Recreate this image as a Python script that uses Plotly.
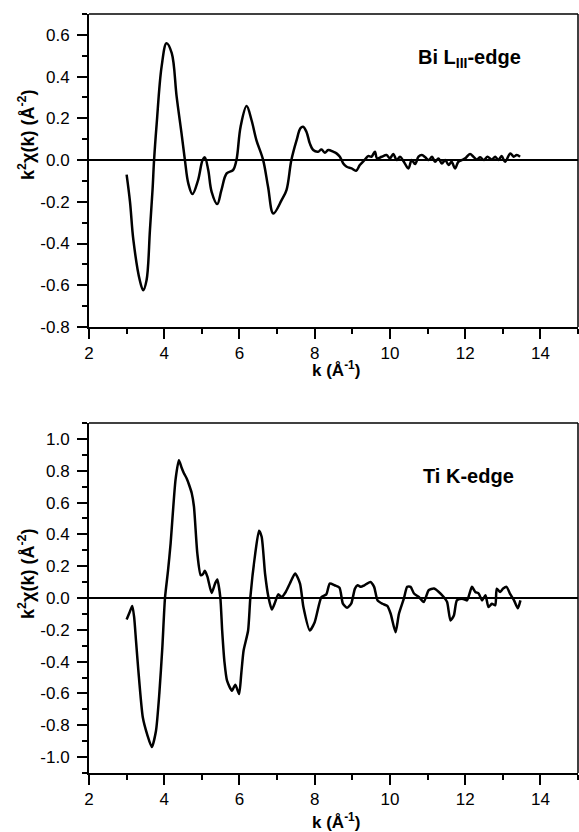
import plotly.graph_objects as go
from plotly.subplots import make_subplots

# ---------------- data ----------------
bi_k = [3.00, 3.09, 3.18, 3.35, 3.44, 3.53, 3.62, 3.69, 3.73, 3.80, 3.93, 4.06, 4.20, 4.33,
        4.46, 4.55, 4.64, 4.75, 4.90, 5.02, 5.08, 5.17, 5.26, 5.41, 5.52, 5.66, 5.83, 5.92,
        6.03, 6.19, 6.32, 6.45, 6.63, 6.76, 6.90, 7.12, 7.25, 7.38, 7.52, 7.62, 7.69, 7.78,
        7.87, 7.96, 8.09, 8.18, 8.27, 8.36, 8.49, 8.58, 8.67, 8.76, 8.85, 8.98, 9.10, 9.20,
        9.34, 9.42, 9.51, 9.60, 9.66, 9.78, 9.91, 10.00, 10.09, 10.18, 10.27, 10.37, 10.49,
        10.58, 10.67, 10.76, 10.85, 10.94, 11.03, 11.12, 11.20, 11.29, 11.38, 11.47, 11.56,
        11.64, 11.73, 11.82, 11.91, 12.00, 12.13, 12.22, 12.31, 12.40, 12.50, 12.59, 12.71,
        12.80, 12.88, 12.97, 13.06, 13.20, 13.29, 13.37, 13.46]
bi_chi = [-0.07, -0.20, -0.384, -0.576, -0.624, -0.576, -0.336, -0.14, 0.0, 0.176, 0.448,
          0.56, 0.512, 0.304, 0.128, 0.0, -0.112, -0.163, -0.096, 0.0, 0.013, -0.048, -0.152,
          -0.211, -0.144, -0.064, -0.048, 0.0, 0.16, 0.259, 0.192, 0.096, 0.0, -0.128, -0.256,
          -0.192, -0.144, 0.0, 0.096, 0.152, 0.16, 0.136, 0.08, 0.048, 0.04, 0.051, 0.035,
          0.048, 0.04, 0.032, 0.016, -0.016, -0.032, -0.04, -0.051, -0.024, 0.003, 0.019,
          0.016, 0.04, 0.008, 0.016, 0.024, 0.008, 0.029, 0.0, 0.016, -0.008, -0.04, 0.0,
          -0.019, 0.016, 0.024, 0.013, 0.0, 0.016, -0.008, 0.008, -0.016, 0.0, -0.024, -0.008,
          -0.04, -0.008, 0.0, 0.008, 0.029, 0.016, 0.003, 0.013, 0.0, 0.016, 0.003, 0.016, 0.0,
          0.019, -0.008, 0.032, 0.016, 0.024, 0.016]

ti_k = [3.00, 3.08, 3.15, 3.20, 3.25, 3.31, 3.43, 3.55, 3.67, 3.78, 3.87, 3.95, 4.02, 4.10,
        4.17, 4.30, 4.39, 4.46, 4.52, 4.60, 4.66, 4.73, 4.79, 4.88, 4.97, 5.03, 5.08, 5.15,
        5.26, 5.35, 5.41, 5.49, 5.54, 5.60, 5.67, 5.80, 5.89, 5.99, 6.05, 6.11, 6.23, 6.29,
        6.42, 6.52, 6.59, 6.68, 6.77, 6.86, 6.95, 7.03, 7.12, 7.23, 7.34, 7.48, 7.61, 7.70,
        7.87, 8.00, 8.18, 8.31, 8.40, 8.53, 8.66, 8.75, 8.86, 8.97, 9.07, 9.14, 9.23, 9.32,
        9.48, 9.58, 9.67, 9.80, 9.93, 10.02, 10.15, 10.24, 10.37, 10.46, 10.55, 10.64, 10.77,
        10.90, 11.03, 11.17, 11.30, 11.43, 11.52, 11.61, 11.70, 11.78, 11.92, 12.05, 12.18,
        12.27, 12.36, 12.45, 12.54, 12.62, 12.71, 12.80, 12.84, 12.93, 13.01, 13.10, 13.19,
        13.30, 13.40, 13.47]
ti_chi = [-0.135, -0.09, -0.05, -0.12, -0.27, -0.45, -0.75, -0.86, -0.937, -0.836, -0.6,
          -0.31, 0.0, 0.17, 0.344, 0.743, 0.866, 0.82, 0.786, 0.75, 0.712, 0.66, 0.575, 0.28,
          0.143, 0.15, 0.171, 0.133, 0.032, 0.09, 0.116, 0.006, -0.204, -0.40, -0.52, -0.583,
          -0.545, -0.604, -0.47, -0.33, -0.204, 0.006, 0.28, 0.423, 0.385, 0.154, 0.006,
          -0.073, -0.025, 0.023, 0.006, 0.038, 0.091, 0.154, 0.091, -0.057, -0.204, -0.152,
          0.006, 0.023, 0.091, 0.08, 0.065, -0.036, -0.061, -0.036, 0.059, 0.08, 0.07, 0.08,
          0.101, 0.07, -0.015, -0.036, -0.05, -0.099, -0.215, -0.099, -0.004, 0.07, 0.07,
          0.028, 0.006, -0.025, 0.049, 0.059, 0.038, 0.006, -0.025, -0.141, -0.11, -0.015,
          -0.004, -0.015, 0.07, 0.038, 0.028, -0.015, 0.017, -0.057, -0.036, -0.046, 0.059,
          0.038, 0.059, 0.07, 0.028, -0.015, -0.065, -0.015]

x_ticks = [2, 4, 6, 8, 10, 12, 14]
x_ticktext = ["2", "4", "6", "8", "10", "12", "14"]
top_yticks = [-0.8, -0.6, -0.4, -0.2, 0.0, 0.2, 0.4, 0.6]
top_yticktext = ["-0.8", "-0.6", "-0.4", "-0.2", "0.0", "0.2", "0.4", "0.6"]
bot_yticks = [-1.0, -0.8, -0.6, -0.4, -0.2, 0.0, 0.2, 0.4, 0.6, 0.8, 1.0]
bot_yticktext = ["-1.0", "-0.8", "-0.6", "-0.4", "-0.2", "0.0", "0.2", "0.4", "0.6", "0.8", "1.0"]

FONT = "Arial, Liberation Sans, sans-serif"

fig = make_subplots(rows=2, cols=1, vertical_spacing=0.0)
fig.add_trace(go.Scatter(x=bi_k, y=bi_chi, mode="lines",
                         line=dict(color="black", width=2.5, shape="spline", smoothing=1.0),
                         showlegend=False), row=1, col=1)
fig.add_trace(go.Scatter(x=ti_k, y=ti_chi, mode="lines",
                         line=dict(color="black", width=2.5, shape="spline", smoothing=0.6),
                         showlegend=False), row=2, col=1)

PH = 759.0
def py(p):
    return (773 - p) / PH

common_x = dict(range=[2, 15], tickvals=x_ticks, ticktext=x_ticktext, ticks="outside",
                ticklen=10, tickwidth=2, tickcolor="black", showline=True, linewidth=2,
                linecolor="black", mirror=False, showgrid=False, zeroline=False,
                tickfont=dict(family=FONT, size=17, color="black"),
                minor=dict(dtick=1, tick0=0, ticklen=5, tickwidth=2, tickcolor="black",
                           ticks="outside", showgrid=False))
common_y = dict(ticks="outside", ticklen=10, tickwidth=2, tickcolor="black", showline=True,
                linewidth=2, linecolor="black", mirror=False, showgrid=False,
                zeroline=True, zerolinecolor="black", zerolinewidth=1.5,
                tickfont=dict(family=FONT, size=17, color="black"), ticklabelstandoff=4,
                minor=dict(dtick=0.1, tick0=0, ticklen=5, tickwidth=2, tickcolor="black",
                           ticks="outside", showgrid=False))

fig.update_xaxes(domain=[0, 1], **common_x, row=1, col=1)
fig.update_xaxes(domain=[0, 1], **common_x, row=2, col=1)
fig.update_yaxes(domain=[py(327), py(14)], range=[-0.8, 0.7], tickvals=top_yticks,
                 ticktext=top_yticktext, **common_y, row=1, col=1)
fig.update_yaxes(domain=[py(773), py(423)], range=[-1.1, 1.1], tickvals=bot_yticks,
                 ticktext=bot_yticktext, **common_y, row=2, col=1)

shapes = []
for xr, yr in (("x domain", "y domain"), ("x2 domain", "y2 domain")):
    shapes.append(dict(type="line", xref=xr, yref=yr, x0=0, x1=1, y0=1, y1=1,
                       line=dict(color="black", width=1.5)))
    shapes.append(dict(type="line", xref=xr, yref=yr, x0=1, x1=1, y0=0, y1=1,
                       line=dict(color="black", width=1.5)))

ytitle = "<b>k<sup>2</sup>χ(k) (Å<sup>-2</sup>)</b>"
xtitle = "<b>k (Å<sup>-1</sup>)</b>"
anns = [
    dict(text=ytitle, xref="paper", yref="paper", x=(26 - 89) / 489, y=py(135),
         textangle=-90, showarrow=False, font=dict(family=FONT, size=18, color="black"),
         xanchor="center", yanchor="middle"),
    dict(text=ytitle, xref="paper", yref="paper", x=(26 - 89) / 489, y=py(574),
         textangle=-90, showarrow=False, font=dict(family=FONT, size=18, color="black"),
         xanchor="center", yanchor="middle"),
    dict(text=xtitle, xref="paper", yref="paper", x=(336 - 89) / 489, y=py(369),
         showarrow=False, font=dict(family=FONT, size=17, color="black"),
         xanchor="center", yanchor="middle"),
    dict(text=xtitle, xref="paper", yref="paper", x=(336 - 89) / 489, y=py(821),
         showarrow=False, font=dict(family=FONT, size=17, color="black"),
         xanchor="center", yanchor="middle"),
    dict(text="<b>Bi L<sub>III</sub>-edge</b>", xref="paper", yref="paper",
         x=(469 - 89) / 489, y=py(59), showarrow=False,
         font=dict(family=FONT, size=20, color="black"), xanchor="center", yanchor="middle"),
    dict(text="<b>Ti K-edge</b>", xref="paper", yref="paper",
         x=(468 - 89) / 489, y=py(476), showarrow=False,
         font=dict(family=FONT, size=20, color="black"), xanchor="center", yanchor="middle"),
]

fig.update_layout(width=579, height=832, margin=dict(l=89, r=1, t=14, b=59),
                  paper_bgcolor="white", plot_bgcolor="white", shapes=shapes,
                  annotations=anns, showlegend=False)

fig.write_html("out.html")
